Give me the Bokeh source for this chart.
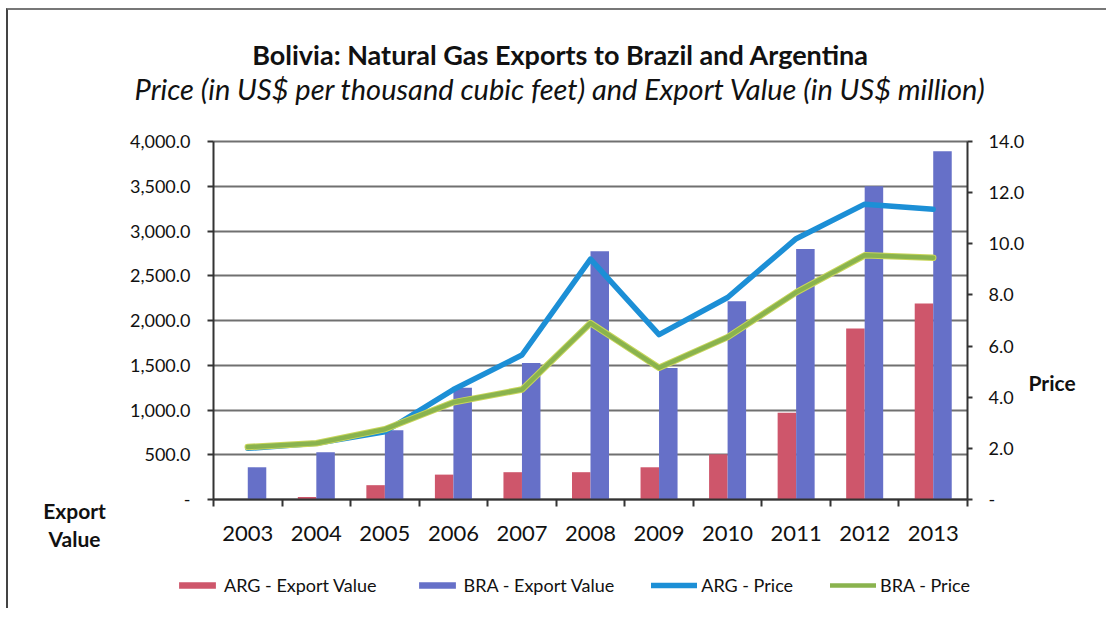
import numpy as np
from bokeh.plotting import figure
from bokeh.models import (Range1d, LinearAxis, FixedTicker, Label, Legend, LegendItem,
                          ColumnDataSource)
from bokeh.embed import file_html
from bokeh.resources import INLINE

# ---------------- data ----------------
years = ["2003", "2004", "2005", "2006", "2007", "2008", "2009", "2010", "2011", "2012", "2013"]
arg_value = [3, 28, 160, 278, 305, 305, 360, 505, 970, 1910, 2190]
bra_value = [360, 528, 775, 1250, 1525, 2775, 1470, 2215, 2800, 3500, 3890]
arg_price = [2.0, 2.2, 2.65, 4.3, 5.65, 9.4, 6.45, 7.9, 10.2, 11.55, 11.35]
bra_price = [2.05, 2.2, 2.75, 3.8, 4.3, 6.9, 5.15, 6.35, 8.1, 9.55, 9.45]

value_ticks = [0, 500, 1000, 1500, 2000, 2500, 3000, 3500, 4000]
value_tick_labels = ["-", "500.0", "1,000.0", "1,500.0", "2,000.0", "2,500.0",
                     "3,000.0", "3,500.0", "4,000.0"]
price_ticks = [0, 2, 4, 6, 8, 10, 12, 14]
price_tick_labels = ["-", "2.0", "4.0", "6.0", "8.0", "10.0", "12.0", "14.0"]

title_text = "Bolivia: Natural Gas Exports to Brazil and Argentina"
subtitle_text = "Price (in US$ per thousand cubic feet) and Export Value (in US$ million)"

# ---------------- styling / geometry ----------------
FONT = "Lato"
ARG_BAR = "#CE566B"
BRA_BAR = "#6670C8"
ARG_LINE = "#1C8FD6"
BRA_LINE = "#8AB34E"
GRID = "#707070"
AXIS = "#333333"

n = len(years)
VMAX = value_ticks[-1]
PMAX = price_ticks[-1]

W, H = 1100, 600
# plot area inside the canvas (pixels)
L, R, T, B = 205, 959, 131, 489
ux = n / (R - L)          # x units per pixel
uy = VMAX / (B - T)       # value units per pixel

centers = np.arange(n) + 0.5
bw = 0.27

src = ColumnDataSource(dict(
    xc=centers,
    x_arg=centers - bw / 2,
    x_bra=centers + bw / 2,
    arg_value=arg_value, bra_value=bra_value,
    arg_price=arg_price, bra_price=bra_price,
))

p = figure(width=W, height=H, output_backend="svg", toolbar_location=None,
           x_range=Range1d(-L * ux, (W - L) * ux),
           y_range=Range1d(-(H - B) * uy, B * uy),
           min_border=0)
p.styles = {"margin-left": "6px", "margin-top": "8px",
            "border-left": "2px solid #444", "border-top": "2px solid #777"}
p.outline_line_color = None
p.background_fill_color = "white"
p.border_fill_color = "white"

pscale = PMAX / VMAX
p.extra_y_ranges = {"price": Range1d(-(H - B) * uy * pscale, B * uy * pscale)}

# grid
p.xgrid.grid_line_color = None
p.ygrid.ticker = FixedTicker(ticks=value_ticks, minor_ticks=[])
p.ygrid.grid_line_color = GRID
p.ygrid.grid_line_width = 2
p.ygrid.cross_bounds = (0, n)
p.ygrid.bounds = (0, VMAX)

# bars
r_arg = p.vbar(x="x_arg", top="arg_value", width=bw, source=src,
               fill_color=ARG_BAR, line_color=None)
r_bra = p.vbar(x="x_bra", top="bra_value", width=bw, source=src,
               fill_color=BRA_BAR, line_color=None)
# lines
r_argp = p.line(x="xc", y="arg_price", source=src, y_range_name="price",
                line_color=ARG_LINE, line_width=5.5, line_join="round", line_cap="round")
p.line(x="xc", y="bra_price", source=src, y_range_name="price",
       line_color="#C8D65A", line_width=6.5, line_join="round", line_cap="round")
r_brap = p.line(x="xc", y="bra_price", source=src, y_range_name="price",
                line_color=BRA_LINE, line_width=4.5, line_join="round", line_cap="round")

# x axis
xa = p.xaxis[0]
xa.fixed_location = 0
xa.bounds = (0, n)
xa.ticker = FixedTicker(ticks=list(centers), minor_ticks=list(np.arange(n + 1)))
xa.major_label_overrides = {float(c): y for c, y in zip(centers, years)}
xa.major_tick_out = 0
xa.major_tick_in = 0
xa.minor_tick_out = 7
xa.minor_tick_in = 0
xa.minor_tick_line_color = AXIS
xa.minor_tick_line_width = 2
xa.axis_line_color = AXIS
xa.axis_line_width = 2
xa.major_label_text_font = FONT
xa.major_label_text_font_size = "22px"
xa.major_label_text_color = "#111111"
xa.major_label_standoff = 19

# left axis
ya = p.yaxis[0]
ya.fixed_location = 0
ya.bounds = (0, VMAX)
ya.ticker = FixedTicker(ticks=value_ticks, minor_ticks=[])
ya.major_label_overrides = {float(t): l for t, l in zip(value_ticks, value_tick_labels)}
ya.major_tick_out = 6
ya.major_tick_in = 0
ya.minor_tick_out = 0
ya.minor_tick_in = 0
ya.major_tick_line_color = AXIS
ya.major_tick_line_width = 2
ya.axis_line_color = AXIS
ya.axis_line_width = 2
ya.major_label_text_font = FONT
ya.major_label_text_font_size = "18px"
ya.major_label_text_color = "#111111"
ya.major_label_standoff = 17

# right axis
ra = LinearAxis(y_range_name="price", fixed_location=n, bounds=(0, PMAX),
                ticker=FixedTicker(ticks=price_ticks, minor_ticks=[]))
ra.major_label_overrides = {float(t): l for t, l in zip(price_ticks, price_tick_labels)}
ra.major_tick_out = 5
ra.major_tick_in = 0
ra.minor_tick_out = 0
ra.minor_tick_in = 0
ra.major_tick_line_color = AXIS
ra.major_tick_line_width = 2
ra.axis_line_color = AXIS
ra.axis_line_width = 2
ra.major_label_text_font = FONT
ra.major_label_text_font_size = "18px"
ra.major_label_text_color = "#111111"
ra.major_label_standoff = 16
p.add_layout(ra, "right")


def lab(text, cx, cy, size, style="normal", align="left"):
    # cx, cy: canvas pixel position (from top-left) converted to data units
    return Label(x=(cx - L) * ux, y=(B - cy) * uy, text=text, text_font=FONT,
                 text_font_size=size, text_font_style=style, text_align=align,
                 text_baseline="alphabetic", text_color="#111111")


p.add_layout(lab(title_text, 552, 44, "27px", "bold", "center"))
p.add_layout(lab(subtitle_text, 552, 78, "29px", "italic", "center"))
p.add_layout(lab("Export", 66, 500, "21px", "bold", "center"))
p.add_layout(lab("Value", 66, 528, "21px", "bold", "center"))
p.add_layout(lab("Price", 1020, 372, "21px", "bold", "left"))

legend = Legend(items=[
    LegendItem(label="ARG - Export Value", renderers=[r_arg]),
    LegendItem(label="BRA - Export Value", renderers=[r_bra]),
    LegendItem(label="ARG - Price", renderers=[r_argp]),
    LegendItem(label="BRA - Price", renderers=[r_brap]),
], orientation="horizontal", location=(166, 14), glyph_width=46, glyph_height=8,
    label_standoff=4, spacing=37, padding=0, margin=0,
    border_line_color=None, background_fill_alpha=0,
    label_text_font=FONT, label_text_font_size="18px", label_text_color="#111111")
p.add_layout(legend)

open("out.html", "w").write(file_html(p, INLINE))
